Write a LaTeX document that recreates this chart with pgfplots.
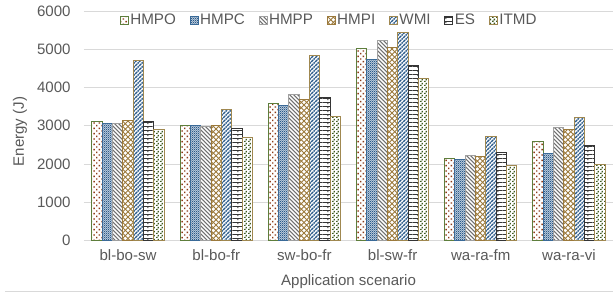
\documentclass[border=0pt]{standalone}
\usepackage{pgfplots}
\pgfplotsset{compat=1.18}
\usepackage{fontspec}
\setmainfont{Liberation Sans}
\usetikzlibrary{patterns}
\newcommand\Lg{\fontsize{11.4}{13}\selectfont}
\newcommand\Gp{\kern 9pt\relax}

\definecolor{gridc}{HTML}{D9D9D9}
\definecolor{txtc}{HTML}{595959}
\definecolor{ogreen}{HTML}{5E7E3C}
\definecolor{dred}{HTML}{8E3A16}
\definecolor{mblue}{HTML}{2A5A8A}
\definecolor{bblue}{HTML}{3A6A98}
\definecolor{mgray}{HTML}{707070}
\definecolor{bgray}{HTML}{A0A0A0}
\definecolor{brown}{HTML}{9C7A3C}
\definecolor{tan}{HTML}{A08850}
\definecolor{dgreen}{HTML}{3D5A1E}
\definecolor{esc}{HTML}{353535}

\pgfdeclarepatternformonly{pdots}{\pgfqpoint{-0.5pt}{-0.5pt}}{\pgfqpoint{4.5pt}{4.5pt}}{\pgfqpoint{4pt}{4pt}}{%
 \pgfpathrectangle{\pgfqpoint{0pt}{0pt}}{\pgfqpoint{1.1pt}{1.1pt}}%
 \pgfpathrectangle{\pgfqpoint{2pt}{2pt}}{\pgfqpoint{1.1pt}{1.1pt}}%
 \pgfusepath{fill}}
\pgfdeclarepatternformonly{pcheck}{\pgfqpoint{0pt}{0pt}}{\pgfqpoint{1.6pt}{1.6pt}}{\pgfqpoint{1.6pt}{1.6pt}}{%
 \pgfpathrectangle{\pgfqpoint{0pt}{0pt}}{\pgfqpoint{0.8pt}{0.8pt}}%
 \pgfpathrectangle{\pgfqpoint{0.8pt}{0.8pt}}{\pgfqpoint{0.8pt}{0.8pt}}%
 \pgfusepath{fill}}
\pgfdeclarepatternformonly{pnw}{\pgfqpoint{-1pt}{-1pt}}{\pgfqpoint{4pt}{4pt}}{\pgfqpoint{3pt}{3pt}}{%
 \pgfsetlinewidth{0.75pt}%
 \pgfpathmoveto{\pgfqpoint{0pt}{3pt}}\pgfpathlineto{\pgfqpoint{3pt}{0pt}}\pgfusepath{stroke}}
\pgfdeclarepatternformonly{pcross}{\pgfqpoint{-1pt}{-1pt}}{\pgfqpoint{5pt}{5pt}}{\pgfqpoint{4pt}{4pt}}{%
 \pgfsetlinewidth{0.65pt}%
 \pgfpathmoveto{\pgfqpoint{0pt}{4pt}}\pgfpathlineto{\pgfqpoint{4pt}{0pt}}%
 \pgfpathmoveto{\pgfqpoint{0pt}{0pt}}\pgfpathlineto{\pgfqpoint{4pt}{4pt}}\pgfusepath{stroke}}
\pgfdeclarepatternformonly{pne}{\pgfqpoint{-1pt}{-1pt}}{\pgfqpoint{4pt}{4pt}}{\pgfqpoint{3pt}{3pt}}{%
 \pgfsetlinewidth{1.05pt}%
 \pgfsetdash{{1.2pt}{0.5pt}}{0pt}%
 \pgfpathmoveto{\pgfqpoint{0pt}{0pt}}\pgfpathlineto{\pgfqpoint{3pt}{3pt}}\pgfusepath{stroke}}
\pgfdeclarepatternformonly{pbrick}{\pgfqpoint{0pt}{0pt}}{\pgfqpoint{7.7pt}{3.2pt}}{\pgfqpoint{7.7pt}{3.2pt}}{%
 \pgfsetlinewidth{0.85pt}%
 \pgfpathmoveto{\pgfqpoint{0pt}{3.2pt}}\pgfpathlineto{\pgfqpoint{7.7pt}{3.2pt}}%
 \pgfpathmoveto{\pgfqpoint{3.85pt}{3.2pt}}\pgfpathlineto{\pgfqpoint{3.85pt}{1.7pt}}\pgfusepath{stroke}}
\pgfdeclarepatternformonly{pconf}{\pgfqpoint{0pt}{0pt}}{\pgfqpoint{3pt}{3pt}}{\pgfqpoint{3pt}{3pt}}{%
 \pgfpathrectangle{\pgfqpoint{0pt}{0pt}}{\pgfqpoint{1.5pt}{1.1pt}}%
 \pgfpathrectangle{\pgfqpoint{1.5pt}{1.5pt}}{\pgfqpoint{1.1pt}{1.5pt}}%
 \pgfusepath{fill}}

\begin{document}
\begin{tikzpicture}
\useasboundingbox (-63pt,-42.4pt) rectangle (396.75pt,180.4pt);
\draw[gridc, line width=0.6pt] (-59pt,-38.5pt) -- (396.75pt,-38.5pt);
\begin{axis}[
  at={(0pt,0pt)}, anchor=south west,
  scale only axis, width=396.75pt, height=172.1pt,
  font=\fontsize{11.3}{13}\selectfont,
  ybar=0pt, bar width=0.117,
  xmin=-0.5, xmax=5.5, ymin=0, ymax=6000,
  xtick={0,1,2,3,4,5},
  xticklabels={bl-bo-sw,bl-bo-fr,sw-bo-fr,bl-sw-fr,wa-ra-fm,wa-ra-vi},
  ytick={0,1000,2000,3000,4000,5000,6000},
  axis lines=left, axis line style={-},
  x axis line style={draw=gridc, line width=0.75pt},
  y axis line style={draw=none},
  major tick length=0pt,
  ymajorgrids, grid style={draw=gridc, line width=0.75pt},
  tick label style={text=txtc},
  yticklabel style={xshift=-6.5pt},
  xticklabel style={yshift=-3pt},
  /pgf/number format/assume math mode=true,
  /pgf/number format/1000 sep={},
  ylabel={Energy (J)}, xlabel={Application scenario},
  label style={text=txtc, font=\fontsize{11.3}{13}\selectfont},
  ylabel style={at={(axis description cs:0,0.475)}, anchor=center, yshift=48pt},
  xlabel style={at={(axis description cs:0.5,0)}, anchor=center, yshift=-31pt},
  legend style={at={(0.463,1.005)}, anchor=north, draw=none, fill=none,
    legend columns=-1, text=txtc,
    nodes={inner xsep=1.2pt, inner ysep=1pt}},
  legend image code/.code={\draw[#1] (0pt,-3pt) rectangle (6pt,3pt);},
  every axis plot/.append style={line width=0.75pt},
]
\addplot[draw=ogreen, fill=white, postaction={pattern=pdots, pattern color=dred}]
  coordinates {(0,3120) (1,3015) (2,3580) (3,5025) (4,2150) (5,2585)};
\addplot[draw=bblue, fill=mblue!30, postaction={pattern=pcheck, pattern color=mblue}]
  coordinates {(0,3060) (1,3015) (2,3530) (3,4730) (4,2120) (5,2280)};
\addplot[draw=bgray, fill=white, postaction={pattern=pnw, pattern color=mgray}]
  coordinates {(0,3060) (1,2980) (2,3815) (3,5235) (4,2230) (5,2945)};
\addplot[draw=brown, fill=white, postaction={pattern=pcross, pattern color=brown}]
  coordinates {(0,3140) (1,3010) (2,3700) (3,5045) (4,2200) (5,2910)};
\addplot[draw=tan, fill=white, postaction={pattern=pne, pattern color=mblue}]
  coordinates {(0,4710) (1,3425) (2,4840) (3,5435) (4,2710) (5,3225)};
\addplot[draw=esc, fill=white, postaction={pattern=pbrick, pattern color=esc}]
  coordinates {(0,3110) (1,2940) (2,3735) (3,4590) (4,2310) (5,2485)};
\addplot[draw=tan, fill=white, postaction={pattern=pconf, pattern color=dgreen}]
  coordinates {(0,2895) (1,2700) (2,3250) (3,4235) (4,1960) (5,1990)};
\legend{\Lg HMPO\Gp,\Lg HMPC\Gp,\Lg HMPP\Gp,\Lg HMPI\Gp,\Lg WMI\Gp,\Lg ES\Gp,\Lg ITMD}
\end{axis}
\end{tikzpicture}
\end{document}
